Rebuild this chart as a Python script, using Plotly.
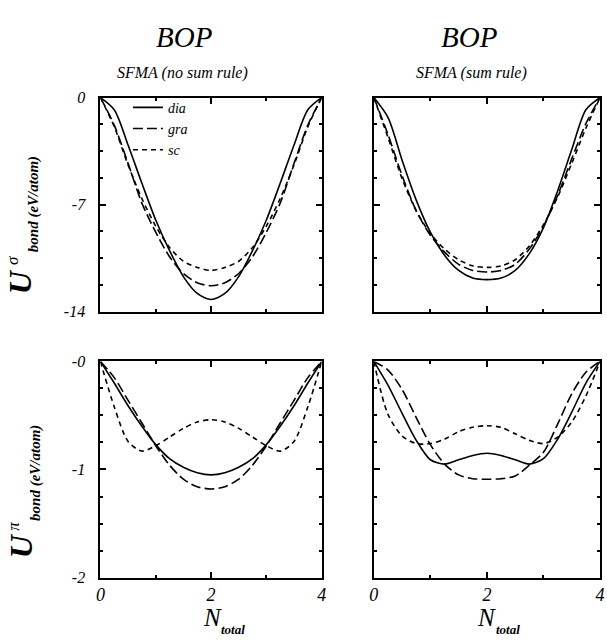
import plotly.graph_objects as go

W, H = 607, 644

N = [0, 0.25, 0.5, 0.75, 1.0, 1.25, 1.5, 1.75, 2.0, 2.25, 2.5, 2.75, 3.0, 3.25, 3.5, 3.75, 4.0]

# sigma bond energy, SFMA no sum rule (eV/atom)
sig_nosum_dia = [0, -0.8, -3.1, -5.6, -8.0, -10.0, -11.7, -12.8, -13.2, -12.8, -11.7, -10.0, -8.0, -5.6, -3.1, -0.8, 0]
sig_nosum_gra = [0, -1.8, -4.3, -6.9, -8.8, -10.4, -11.5, -12.1, -12.3, -12.1, -11.5, -10.4, -8.8, -6.9, -4.3, -1.8, 0]
sig_nosum_sc = [0, -1.9, -4.4, -6.6, -8.4, -9.8, -10.7, -11.1, -11.3, -11.1, -10.7, -9.8, -8.4, -6.6, -4.4, -1.9, 0]

# sigma bond energy, SFMA sum rule
sig_sum_dia = [0, -1.3, -4.1, -6.7, -8.8, -10.3, -11.3, -11.8, -11.9, -11.8, -11.3, -10.2, -8.5, -6.1, -3.4, -0.8, 0]
sig_sum_gra = [0, -2.4, -5.1, -7.4, -9.0, -10.1, -10.9, -11.3, -11.4, -11.3, -10.9, -9.9, -8.4, -6.4, -4.0, -1.7, 0]
sig_sum_sc = [0, -2.6, -5.3, -7.4, -8.9, -9.9, -10.6, -11.0, -11.1, -11.0, -10.6, -9.7, -8.3, -6.5, -4.3, -2.0, 0]

# pi bond energy, SFMA no sum rule
pi_nosum_dia = [0, -0.20, -0.41, -0.60, -0.77, -0.90, -0.98, -1.03, -1.05, -1.03, -0.98, -0.90, -0.77, -0.60, -0.41, -0.20, 0]
pi_nosum_gra = [0, -0.15, -0.36, -0.57, -0.78, -0.96, -1.09, -1.16, -1.18, -1.16, -1.09, -0.96, -0.78, -0.57, -0.36, -0.15, 0]
pi_nosum_sc = [0, -0.42, -0.74, -0.83, -0.78, -0.70, -0.62, -0.56, -0.54, -0.56, -0.62, -0.70, -0.78, -0.83, -0.74, -0.42, 0]

# pi bond energy, SFMA sum rule
pi_sum_dia = [0, -0.22, -0.48, -0.73, -0.91, -0.95, -0.91, -0.87, -0.85, -0.87, -0.91, -0.95, -0.90, -0.72, -0.47, -0.20, 0]
pi_sum_gra = [0, -0.08, -0.26, -0.52, -0.77, -0.95, -1.05, -1.085, -1.09, -1.085, -1.06, -0.96, -0.84, -0.58, -0.30, -0.10, 0]
pi_sum_sc = [0, -0.49, -0.69, -0.76, -0.76, -0.72, -0.65, -0.61, -0.595, -0.61, -0.67, -0.73, -0.76, -0.70, -0.56, -0.32, 0]

x_ticks = [0, 2, 4]
x_ticklabels = ["0", "2", "4"]
sig_ticks = [0, -7, -14]
sig_ticklabels = ["0", "-7", "-14"]
pi_ticks = [0, -1, -2]
pi_ticklabels = ["-0", "-1", "-2"]

series_names = ["dia", "gra", "sc"]
dash_styles = {"dia": "solid", "gra": "10px,4px", "sc": "5px,4px"}

SERIF = "Liberation Serif"

panels = [
    ("x", "y", [sig_nosum_dia, sig_nosum_gra, sig_nosum_sc], (97, 322), (92, 312)),
    ("x2", "y2", [sig_sum_dia, sig_sum_gra, sig_sum_sc], (375, 605), (92, 312)),
    ("x3", "y3", [pi_nosum_dia, pi_nosum_gra, pi_nosum_sc], (97, 322), (363, 585)),
    ("x4", "y4", [pi_sum_dia, pi_sum_gra, pi_sum_sc], (375, 605), (363, 585)),
]

fig = go.Figure()

for i, (xa, ya, data, xd, yd) in enumerate(panels):
    for name, vals in zip(series_names, data):
        fig.add_trace(go.Scatter(
            x=N, y=vals, mode="lines", name=name,
            line=dict(color="black", width=1.6, dash=dash_styles[name], shape="spline", smoothing=0.8),
            xaxis=xa, yaxis=ya, showlegend=(i == 0),
        ))

layout = dict(
    width=W, height=H,
    margin=dict(l=0, r=0, t=0, b=0),
    paper_bgcolor="white", plot_bgcolor="white",
    showlegend=True,
    legend=dict(
        x=125 / W, y=1 - 86 / H, xanchor="left", yanchor="top",
        bgcolor="rgba(0,0,0,0)", borderwidth=0,
        font=dict(family=SERIF, size=14, color="black", style="italic"),
        itemwidth=30, tracegroupgap=0,
    ),
)

for i, (xa, ya, data, xd, yd) in enumerate(panels):
    xk = "xaxis" + xa[1:]
    yk = "yaxis" + ya[1:]
    bottom = i >= 2
    left = i % 2 == 0
    is_sig = i < 2
    layout[xk] = dict(
        domain=[xd[0] / W, xd[1] / W], anchor=ya,
        range=[0, 4], tickvals=x_ticks, ticktext=x_ticklabels,
        showticklabels=bottom, ticks="inside", ticklen=6, tickwidth=1.5, tickcolor="black",
        minor=dict(tickvals=[1, 3], ticks="inside", ticklen=3, tickcolor="black"),
        showline=True, linecolor="black", linewidth=2, mirror="allticks",
        showgrid=False, zeroline=False, ticklabelstandoff=0,
        tickfont=dict(family=SERIF, size=18, color="black", style="italic"),
    )
    layout[yk] = dict(
        domain=[1 - yd[1] / H, 1 - yd[0] / H], anchor=xa,
        range=[-14, 0] if is_sig else [-2, 0],
        tickvals=sig_ticks if is_sig else pi_ticks,
        ticktext=sig_ticklabels if is_sig else pi_ticklabels,
        showticklabels=left, ticks="inside", ticklen=6, tickwidth=1.5, tickcolor="black",
        minor=dict(dtick=1.75 if is_sig else 0.25, ticks="inside", ticklen=3, tickcolor="black"),
        showline=True, linecolor="black", linewidth=2, mirror="allticks",
        showgrid=False, zeroline=False, ticklabelstandoff=10,
        tickfont=dict(family=SERIF, size=16, color="black", style="italic"),
    )

fig.update_layout(**layout)


def ann(text, px, py, size, angle=0, weight="normal", xanchor="center", yanchor="middle"):
    fig.add_annotation(
        text=text, x=px / W, y=1 - py / H, xref="paper", yref="paper",
        showarrow=False, textangle=angle, xanchor=xanchor, yanchor=yanchor,
        font=dict(family=SERIF, size=size, color="black", style="italic", weight=weight),
    )


ann("BOP", 182, 30, 29)
ann("BOP", 472, 30, 29)
ann("SFMA (no sum rule)", 180, 67, 16)
ann("SFMA (sum rule)", 474, 67, 16)

# y axis titles
ann("U", 15, 281, 32, angle=-90, weight="bold")
ann("σ", 7, 259, 17, angle=-90)
ann("bond (eV/atom)", 29, 202, 15, angle=-90, weight="bold")
ann("U", 17, 552, 32, angle=-90, weight="bold")
ann("π", 9, 532, 17, angle=-90)
ann("bond (eV/atom)", 31, 477, 15, angle=-90, weight="bold")

# x axis titles
ann("N", 211, 626, 25, yanchor="middle")
ann("total", 232, 638, 13, weight="bold")
ann("N", 490, 626, 25, yanchor="middle")
ann("total", 511, 638, 13, weight="bold")

fig.write_html("out.html")
